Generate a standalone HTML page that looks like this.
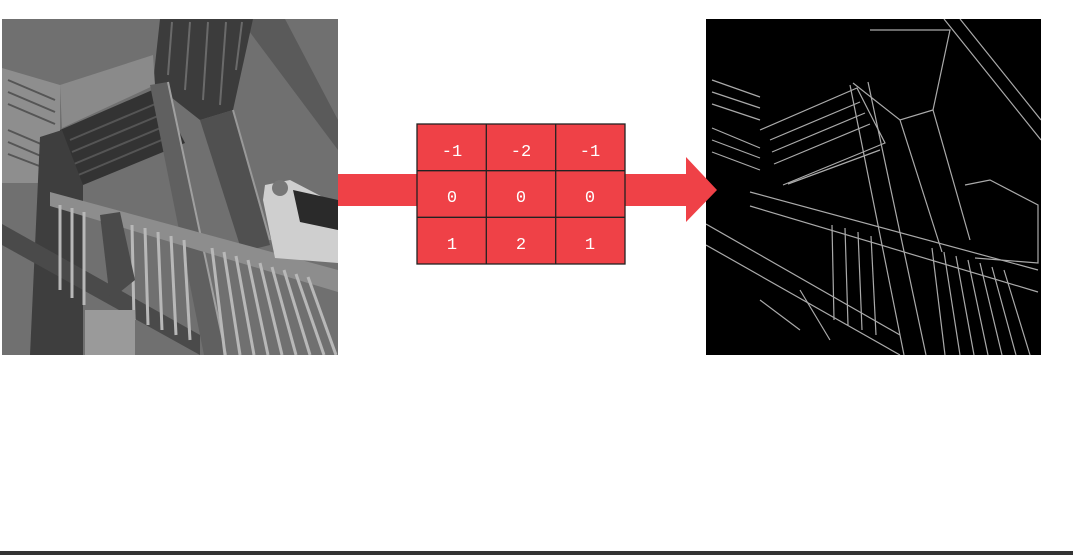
<!DOCTYPE html>
<html><head><meta charset="utf-8">
<style>
html,body{margin:0;padding:0;background:#fff;}
body{width:1073px;height:555px;overflow:hidden;position:relative;font-family:"Liberation Mono","DejaVu Sans Mono",monospace;}
svg{position:absolute;left:0;top:0;}
</style></head>
<body>
<svg width="1073" height="555" viewBox="0 0 1073 555">
  <!-- Left input photo (approximation) -->
  <g>
    <clipPath id="cl"><rect x="2" y="19" width="336" height="336"/></clipPath>
    <g clip-path="url(#cl)">
      <rect x="2" y="19" width="336" height="336" fill="#707070"/>
      <!-- top-right beam -->
      <polygon points="240,19 285,19 338,120 338,150" fill="#5a5a5a"/>
      <!-- top platform underside -->
      <polygon points="160,19 253,19 233,110 200,120 153,83" fill="#3c3c3c"/>
      <g stroke="#6a6a6a" stroke-width="2">
        <line x1="172" y1="22" x2="168" y2="75"/><line x1="190" y1="22" x2="185" y2="90"/>
        <line x1="208" y1="22" x2="203" y2="100"/><line x1="226" y1="22" x2="220" y2="105"/>
        <line x1="242" y1="22" x2="236" y2="70"/>
      </g>
      <!-- left-middle platform underside -->
      <polygon points="60,130 157,88 185,143 83,185 63,185" fill="#333"/>
      <g stroke="#555" stroke-width="2">
        <line x1="70" y1="140" x2="160" y2="102"/><line x1="72" y1="152" x2="165" y2="113"/>
        <line x1="74" y1="164" x2="170" y2="124"/><line x1="76" y1="176" x2="176" y2="134"/>
      </g>
      <!-- upper left lattice -->
      <polygon points="2,68 60,85 60,183 2,183" fill="#8e8e8e"/>
      <g stroke="#555" stroke-width="2">
        <line x1="8" y1="80" x2="55" y2="100"/><line x1="8" y1="92" x2="55" y2="112"/>
        <line x1="8" y1="104" x2="55" y2="124"/><line x1="8" y1="130" x2="55" y2="150"/>
        <line x1="8" y1="142" x2="55" y2="162"/><line x1="8" y1="154" x2="55" y2="172"/>
      </g>
      <polygon points="60,85 153,55 155,85 62,128" fill="#8a8a8a"/>
      <!-- right pillar -->
      <polygon points="200,120 233,110 270,245 242,252" fill="#505050"/>
      <line x1="233" y1="110" x2="270" y2="240" stroke="#999" stroke-width="2"/>
      <!-- central diagonal beam -->
      <polygon points="150,85 168,82 226,355 204,355" fill="#606060"/>
      <line x1="168" y1="82" x2="226" y2="355" stroke="#a0a0a0" stroke-width="2"/>
      <!-- left pillar -->
      <polygon points="40,137 62,130 83,185 83,355 30,355" fill="#3e3e3e"/>
      <!-- handrails -->
      <polygon points="50,192 338,270 338,292 50,206" fill="#8d8d8d"/>
      <polygon points="2,224 200,335 200,355 2,245" fill="#4a4a4a"/>
      <!-- balusters -->
      <g stroke="#b8b8b8" stroke-width="3">
        <line x1="60" y1="205" x2="60" y2="290"/><line x1="72" y1="208" x2="72" y2="298"/>
        <line x1="84" y1="212" x2="84" y2="305"/><line x1="132" y1="225" x2="134" y2="320"/>
        <line x1="145" y1="228" x2="148" y2="325"/><line x1="158" y1="232" x2="162" y2="330"/>
        <line x1="171" y1="236" x2="176" y2="335"/><line x1="184" y1="240" x2="190" y2="340"/>
        <line x1="212" y1="248" x2="225" y2="355"/><line x1="224" y1="252" x2="240" y2="355"/>
        <line x1="236" y1="256" x2="254" y2="355"/><line x1="248" y1="260" x2="268" y2="355"/>
        <line x1="260" y1="263" x2="282" y2="355"/><line x1="272" y1="267" x2="296" y2="355"/>
        <line x1="284" y1="270" x2="310" y2="355"/><line x1="296" y1="274" x2="324" y2="355"/>
        <line x1="308" y1="277" x2="336" y2="355"/>
      </g>
      <!-- people -->
      <polygon points="265,185 290,180 338,205 338,263 275,258 263,200" fill="#cfcfcf"/>
      <polygon points="293,190 338,200 338,230 300,222" fill="#2a2a2a"/>
      <circle cx="280" cy="188" r="8" fill="#777"/>
      <polygon points="100,215 120,212 135,280 110,300" fill="#4a4a4a"/>
      <rect x="85" y="310" width="50" height="45" fill="#9a9a9a"/>
    </g>
  </g>

  <!-- Right output image (edge map approximation) -->
  <g>
    <clipPath id="cr"><rect x="706" y="19" width="335" height="336"/></clipPath>
    <rect x="706" y="19" width="335" height="336" fill="#000"/>
    <g clip-path="url(#cr)" stroke="#bdbdbd" stroke-width="1.2" fill="none" opacity="0.9">
      <line x1="944" y1="19" x2="1041" y2="140"/><line x1="960" y1="19" x2="1041" y2="120"/>
      <polyline points="870,30 950,30 933,110 900,120 853,83"/>
      <polyline points="760,130 857,88 885,143 783,185"/>
      <line x1="712" y1="80" x2="760" y2="97"/><line x1="712" y1="92" x2="760" y2="108"/>
      <line x1="712" y1="104" x2="760" y2="120"/><line x1="712" y1="128" x2="760" y2="148"/>
      <line x1="712" y1="140" x2="760" y2="158"/><line x1="712" y1="152" x2="760" y2="170"/>
      <line x1="770" y1="140" x2="860" y2="102"/><line x1="772" y1="152" x2="865" y2="113"/>
      <line x1="774" y1="164" x2="870" y2="124"/><line x1="788" y1="184" x2="880" y2="150"/>
      <line x1="933" y1="110" x2="970" y2="240"/><line x1="900" y1="120" x2="942" y2="252"/>
      <line x1="868" y1="82" x2="926" y2="355"/><line x1="850" y1="85" x2="904" y2="355"/>
      <line x1="750" y1="192" x2="1038" y2="270"/><line x1="750" y1="206" x2="1038" y2="292"/>
      <line x1="706" y1="224" x2="900" y2="335"/><line x1="706" y1="245" x2="900" y2="355"/>
      <line x1="932" y1="248" x2="945" y2="355"/><line x1="944" y1="252" x2="960" y2="355"/>
      <line x1="956" y1="256" x2="974" y2="355"/><line x1="968" y1="260" x2="988" y2="355"/>
      <line x1="980" y1="263" x2="1002" y2="355"/><line x1="992" y1="267" x2="1016" y2="355"/>
      <line x1="1004" y1="270" x2="1030" y2="355"/>
      <line x1="832" y1="225" x2="834" y2="320"/><line x1="845" y1="228" x2="848" y2="325"/>
      <line x1="858" y1="232" x2="862" y2="330"/><line x1="871" y1="236" x2="876" y2="335"/>
      <polyline points="965,185 990,180 1038,205 1038,263 975,258"/>
      <line x1="760" y1="300" x2="800" y2="330"/><line x1="800" y1="290" x2="830" y2="340"/>
    </g>
  </g>

  <!-- Arrow -->
  <g fill="#ef4147">
    <rect x="338" y="174" width="80" height="32"/>
    <polygon points="624,174 686,174 686,157 717,190 686,222 686,206 624,206"/>
  </g>

  <!-- Kernel grid -->
  <g font-family="'Liberation Mono','DejaVu Sans Mono',monospace" font-size="17" fill="#fff" text-anchor="middle">
    <rect x="417" y="124" width="208" height="140" fill="#ef4147" stroke="#222" stroke-width="1.3"/>
    <g stroke="#222" stroke-width="1.3">
      <line x1="486.3" y1="124" x2="486.3" y2="264"/><line x1="555.7" y1="124" x2="555.7" y2="264"/>
      <line x1="417" y1="170.7" x2="625" y2="170.7"/><line x1="417" y1="217.3" x2="625" y2="217.3"/>
    </g>
    <text x="452" y="156">-1</text>
    <text x="521" y="156">-2</text>
    <text x="590" y="156">-1</text>
    <text x="452" y="202">0</text>
    <text x="521" y="202">0</text>
    <text x="590" y="202">0</text>
    <text x="452" y="249">1</text>
    <text x="521" y="249">2</text>
    <text x="590" y="249">1</text>
  </g>

  <rect x="0" y="551" width="1073" height="4" fill="#333"/>
</svg>
</body></html>
